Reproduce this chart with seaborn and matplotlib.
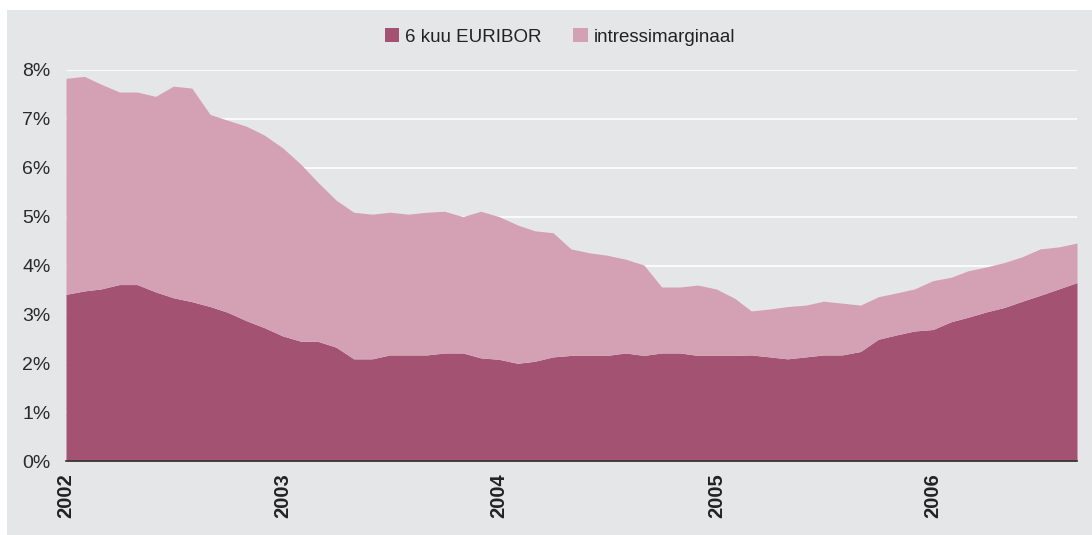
import matplotlib
matplotlib.use("Agg")
import matplotlib.pyplot as plt
import matplotlib.patches as mpatches
import seaborn as sns
import pandas as pd

# monthly, Jan 2002 .. Sep 2006
months = pd.date_range("2002-01-01", "2006-09-01", freq="MS")

euribor = [3.41, 3.48, 3.52, 3.61, 3.61, 3.46, 3.34, 3.26, 3.16, 3.04, 2.87, 2.73,
           2.56, 2.45, 2.45, 2.33, 2.09, 2.09, 2.17, 2.17, 2.17, 2.21, 2.21, 2.11,
           2.08, 2.00, 2.04, 2.13, 2.16, 2.16, 2.16, 2.21, 2.16, 2.21, 2.21, 2.16,
           2.16, 2.16, 2.17, 2.13, 2.09, 2.13, 2.17, 2.17, 2.24, 2.49, 2.58, 2.66,
           2.69, 2.85, 2.94, 3.05, 3.14, 3.27, 3.39, 3.52, 3.65]

# top of the stack (euribor + margin)
total = [7.83, 7.87, 7.71, 7.55, 7.55, 7.46, 7.67, 7.63, 7.09, 6.97, 6.85, 6.67,
         6.41, 6.07, 5.71, 5.34, 5.09, 5.05, 5.09, 5.05, 5.09, 5.11, 5.00, 5.11,
         5.00, 4.83, 4.71, 4.67, 4.34, 4.26, 4.21, 4.13, 4.01, 3.56, 3.56, 3.60,
         3.52, 3.33, 3.07, 3.11, 3.16, 3.19, 3.27, 3.23, 3.19, 3.36, 3.44, 3.52,
         3.69, 3.76, 3.89, 3.97, 4.06, 4.18, 4.34, 4.38, 4.46]

margin = [t - e for t, e in zip(total, euribor)]

labels = ["6 kuu EURIBOR", "intressimarginaal"]
colors = ["#a35271", "#d4a1b4"]
years = [2002, 2003, 2004, 2005, 2006]
yticks = list(range(0, 9))

bg = "#e5e6e8"
sns.set_theme(style="darkgrid", rc={
    "axes.facecolor": bg,
    "grid.color": "white",
    "grid.linewidth": 1.2,
})
plt.rcParams["font.family"] = ["Liberation Sans", "DejaVu Sans"]

fig = plt.figure(figsize=(10.92, 5.35), dpi=100, facecolor="white")
fig.patches.append(mpatches.Rectangle((7 / 1092, 0), 1, 1 - 10 / 535,
                                      transform=fig.transFigure,
                                      facecolor=bg, edgecolor="none", zorder=-5))
ax = fig.add_axes([66 / 1092, 1 - 461 / 535, (1077 - 66) / 1092, (461 - 70) / 535])
ax.set_zorder(2)

ax.stackplot(months, euribor, margin, colors=colors, labels=labels,
             linewidth=0, zorder=2)

ax.set_xlim(months[0], months[-1])
ax.set_ylim(0, 8)
ax.set_yticks(yticks)
ax.set_yticklabels([f"{v}%" for v in yticks], fontsize=14, color="#2a2a2a")
ax.set_xticks([pd.Timestamp(f"{y}-01-01") for y in years])
ax.set_xticklabels([str(y) for y in years], rotation=90, fontsize=14.5,
                   fontweight="bold", color="#222222", va="top", ha="center")
ax.tick_params(axis="y", length=0, pad=11)
ax.tick_params(axis="x", length=0, pad=9)
ax.grid(axis="x", visible=False)
ax.grid(axis="y", zorder=1)
ax.set_axisbelow(True)

for side in ["top", "right", "left"]:
    ax.spines[side].set_visible(False)
ax.spines["bottom"].set_visible(True)
ax.spines["bottom"].set_color("#333333")
ax.spines["bottom"].set_linewidth(1.2)
ax.spines["bottom"].set_zorder(3)

handles = [mpatches.Patch(facecolor=c, edgecolor="none", label=l)
           for c, l in zip(colors, labels)]
leg = fig.legend(handles=handles, loc="center", bbox_to_anchor=(560 / 1092, 1 - 37 / 535),
                 ncol=2, frameon=False, fontsize=13.5, handlelength=0.78, handleheight=0.78,
                 handletextpad=0.3, columnspacing=1.7, labelcolor="#222222")
leg.set_zorder(3)

fig.savefig("out.png", dpi=100, facecolor="white")
